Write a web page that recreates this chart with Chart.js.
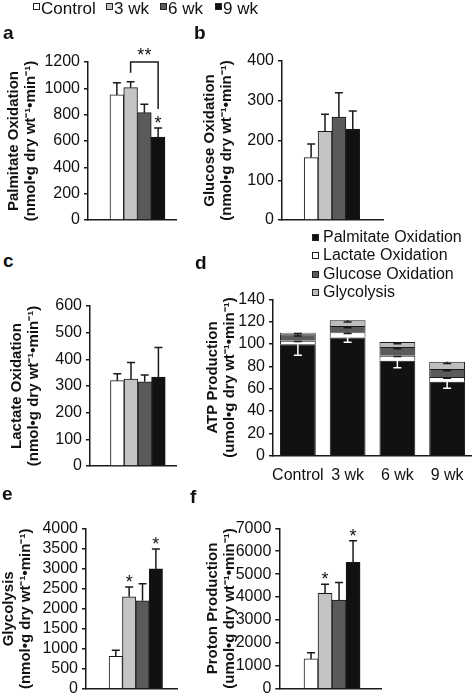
<!DOCTYPE html>
<html>
<head>
<meta charset="utf-8">
<script src="https://cdn.jsdelivr.net/npm/chart.js@4.4.1/dist/chart.umd.min.js"></script>
<style>
  html, body { margin: 0; padding: 0; background: #fff; overflow: hidden; }
  body { width: 472px; height: 696px; position: relative; font-family: "Liberation Sans", Arial, sans-serif; color: #111; }
  canvas { position: absolute; }
  .letter { position: absolute; font-weight: bold; font-size: 19px; line-height: 19px; }
  .leg { position: absolute; white-space: nowrap; }
  .sw { position: absolute; width: 5px; height: 5px; border: 1px solid #222; }
</style>
</head>
<body>
<script>
// groups shared by every panel
const groups = ['Control', '3 wk', '6 wk', '9 wk'];
const groupFill = ['#ffffff', '#c4c4c4', '#5a5a5a', '#111111'];

// a - palmitate oxidation
const palmOx = [950, 1005, 815, 630];
const palmOxErr = [92, 45, 65, 68];
const palmOxStars = ['', '', '', '*'];
const palmOxTicks = [0, 200, 400, 600, 800, 1000, 1200];
const palmOxBracket = ['3 wk', '9 wk', '**'];

// b - glucose oxidation
const glucOx = [157, 223, 259, 229];
const glucOxErr = [34, 43, 61, 45];
const glucOxTicks = [0, 100, 200, 300, 400];

// c - lactate oxidation
const lactOx = [320, 326, 316, 333];
const lactOxErr = [26, 62, 25, 111];
const lactOxTicks = [0, 100, 200, 300, 400, 500, 600];

// d - ATP production, stacked
const atpSeries = ['Palmitate Oxidation', 'Lactate Oxidation', 'Glucose Oxidation', 'Glycolysis'];
const atpFill = ['#111111', '#ffffff', '#5a5a5a', '#bdbdbd'];
const atpPalm = [99.8, 105.7, 85, 66.3];
const atpLact = [3.2, 4.8, 4.5, 4.2];
const atpGluc = [5.7, 5.5, 7.8, 7.1];
const atpGlyc = [1.4, 5.2, 4.5, 6.4];
const atpPalmErr = [9.8, 4.2, 6.2, 6];
const atpLactErr = [0.8, 1.2, 0.8, 1.2];
const atpGlucErr = [1.5, 1.5, 1.5, 1.5];
const atpGlycErr = [0.8, 1.5, 1.5, 1.5];
const atpTicks = [0, 20, 40, 60, 80, 100, 120, 140];

// e - glycolysis
const glyco = [810, 2300, 2200, 3000];
const glycoErr = [150, 250, 430, 500];
const glycoStars = ['', '*', '', '*'];
const glycoTicks = [0, 500, 1000, 1500, 2000, 2500, 3000, 3500, 4000];

// f - proton production
const proton = [1300, 4165, 3870, 5520];
const protonErr = [270, 395, 770, 940];
const protonStars = ['', '*', '', '*'];
const protonTicks = [0, 1000, 2000, 3000, 4000, 5000, 6000, 7000];

const unitN = '(nmol•g dry wt⁻¹•min⁻¹)';
const unitU = '(umol•g dry wt⁻¹•min⁻¹)';

const FONT = '"Liberation Sans", Arial, sans-serif';
const INK = '#1a1a1a';
const tickFont = { family: FONT, size: 16 };
const titleFont = { family: FONT, size: 15, weight: 'bold', lineHeight: 1.15 };
const axisBorder = { display: true, color: INK, width: 1.5 };

// error bars, stars and the bracket on top of the bars
const barMarks = {
  id: 'barMarks',
  afterDatasetsDraw(chart, args, opts) {
    if (!opts.errors) return;
    const ctx = chart.ctx;
    const yScale = chart.scales.y;
    const zero = yScale.getPixelForValue(0);
    const caps = [];
    ctx.save();
    ctx.lineWidth = 1.5;
    opts.errors.forEach(set => {
      chart.getDatasetMeta(set.dataset).data.forEach((bar, i) => {
        const len = zero - yScale.getPixelForValue(set.values[i]);
        const end = set.down ? bar.y + len : bar.y - len;
        ctx.strokeStyle = set.color;
        ctx.beginPath();
        ctx.moveTo(bar.x, bar.y);
        ctx.lineTo(bar.x, end);
        ctx.moveTo(bar.x - 4, end);
        ctx.lineTo(bar.x + 4, end);
        ctx.stroke();
        if (!set.down) caps[i] = { x: bar.x, y: end };
      });
    });
    const stars = opts.stars || [];
    ctx.fillStyle = '#111';
    ctx.font = '18px ' + FONT;
    ctx.textAlign = 'center';
    ctx.textBaseline = 'alphabetic';
    stars.forEach((s, i) => {
      if (s && caps[i]) ctx.fillText(s, caps[i].x, caps[i].y + 1);
    });
    if (opts.bracket) {
      const l = caps[groups.indexOf(opts.bracket[0])];
      const r = caps[groups.indexOf(opts.bracket[1])];
      const lEnd = l.y - 9 - (stars[groups.indexOf(opts.bracket[0])] ? 10 : 0);
      const rEnd = r.y - 9 - (stars[groups.indexOf(opts.bracket[1])] ? 10 : 0);
      const top = yScale.top;
      ctx.strokeStyle = INK;
      ctx.beginPath();
      ctx.moveTo(l.x, lEnd);
      ctx.lineTo(l.x, top);
      ctx.lineTo(r.x, top);
      ctx.lineTo(r.x, rEnd);
      ctx.stroke();
      ctx.fillText(opts.bracket[2], (l.x + r.x) / 2, top - 1);
    }
    ctx.restore();
  }
};
Chart.register(barMarks);

// box = canvas [left, top, width, height], area = plot [left, top, right, bottom] in page px
function makePanel(cfg) {
  const [L, T, W, H] = cfg.box;
  const [al, at, ar, ab] = cfg.area;
  const c = document.createElement('canvas');
  c.width = W;
  c.height = H;
  c.style.left = L + 'px';
  c.style.top = T + 'px';
  document.body.appendChild(c);
  return new Chart(c, {
    type: 'bar',
    data: cfg.data,
    options: {
      responsive: false,
      animation: false,
      devicePixelRatio: 1,
      layout: { padding: { left: 0, top: at - T, right: L + W - ar, bottom: 0 } },
      plugins: { legend: { display: false }, tooltip: { enabled: false }, barMarks: cfg.marks },
      scales: {
        x: Object.assign({
          afterFit: s => { s.height = T + H - ab; },
          grid: { display: false },
          border: axisBorder
        }, cfg.x),
        y: {
          stacked: !!cfg.stacked,
          min: cfg.ticks[0],
          max: cfg.ticks[cfg.ticks.length - 1],
          afterFit: s => { s.width = al - L; },
          afterBuildTicks: s => { s.ticks = cfg.ticks.map(v => ({ value: v })); },
          ticks: { font: tickFont, color: '#111', padding: 4, autoSkip: false, callback: v => String(v) },
          grid: { drawOnChartArea: false, drawTicks: true, tickLength: 4, color: INK, lineWidth: 1.5 },
          border: axisBorder,
          title: { display: true, text: cfg.title, font: titleFont, color: '#111', padding: { top: cfg.titlePad, bottom: 0 } }
        }
      }
    }
  });
}

function simplePanel(box, area, xRange, values, errs, stars, ticks, title, titlePad, bracket) {
  return makePanel({
    box, area, ticks, title, titlePad,
    data: {
      datasets: [{
        data: groups.map((g, i) => ({ x: i + 1, y: values[i] })),
        backgroundColor: groupFill,
        borderColor: INK,
        borderWidth: 1,
        barPercentage: 1,
        categoryPercentage: 1
      }]
    },
    x: {
      type: 'linear',
      min: xRange[0],
      max: xRange[1],
      ticks: { display: false },
      afterBuildTicks: s => { s.ticks = groups.map((g, i) => ({ value: i + 1 })); }
    },
    marks: {
      errors: [{ dataset: 0, values: errs, color: INK, down: false }],
      stars: stars,
      bracket: bracket
    }
  });
}

simplePanel([0, 40, 200, 200], [88, 62, 176, 220], [-0.3, 4.5], palmOx, palmOxErr, palmOxStars,
  palmOxTicks, ['Palmitate Oxidation', unitN], 5, palmOxBracket);
simplePanel([196, 40, 200, 200], [282, 61, 383, 220], [-0.19, 5.27], glucOx, glucOxErr, [],
  glucOxTicks, ['Glucose Oxidation', unitN], 5);
simplePanel([3, 280, 200, 210], [90, 306, 176, 466], [-0.21, 4.5], lactOx, lactOxErr, [],
  lactOxTicks, ['Lactate Oxidation', unitN], 5);
simplePanel([0, 505, 200, 200], [86, 529, 177, 688.7], [-0.38, 4.73], glyco, glycoErr, glycoStars,
  glycoTicks, ['Glycolysis', unitN], 0);
simplePanel([199, 505, 200, 200], [279.3, 528.3, 381.7, 688.7], [-0.35, 5.13], proton, protonErr, protonStars,
  protonTicks, ['Proton Production', unitU], 5);

// d - stacked ATP production
const atpValues = [atpPalm, atpLact, atpGluc, atpGlyc];
makePanel({
  box: [199, 280, 273, 220],
  area: [273, 299.3, 472, 455.7],
  ticks: atpTicks,
  stacked: true,
  title: ['ATP Production', unitU],
  titlePad: 5,
  data: {
    labels: groups,
    datasets: atpSeries.map((name, k) => ({
      label: name,
      data: atpValues[k],
      backgroundColor: atpFill[k],
      borderColor: INK,
      borderWidth: 1,
      barPercentage: 0.72,
      categoryPercentage: 1
    }))
  },
  x: {
    type: 'category',
    stacked: true,
    offset: true,
    ticks: { font: tickFont, color: '#111', padding: 2, autoSkip: false, maxRotation: 0, minRotation: 0 }
  },
  marks: {
    errors: [
      { dataset: 0, values: atpPalmErr, color: '#ffffff', down: true },
      { dataset: 1, values: atpLactErr, color: INK, down: true },
      { dataset: 2, values: atpGlucErr, color: INK, down: true },
      { dataset: 3, values: atpGlycErr, color: INK, down: true }
    ]
  }
});

// text overlays: panel letters and legends
function addText(cls, text, left, top, extra) {
  const d = document.createElement('div');
  d.className = cls;
  d.textContent = text;
  d.style.left = left + 'px';
  d.style.top = top + 'px';
  Object.assign(d.style, extra || {});
  document.body.appendChild(d);
}
function addSwatch(left, top, fill) {
  const s = document.createElement('div');
  s.className = 'sw';
  s.style.left = left + 'px';
  s.style.top = top + 'px';
  s.style.background = fill;
  document.body.appendChild(s);
}

const letters = ['a', 'b', 'c', 'd', 'e', 'f'];
const letterPos = [[3, 23], [194, 23], [3, 251], [195, 253], [2, 484], [190, 487]];
letters.forEach((t, i) => addText('letter', t, letterPos[i][0], letterPos[i][1]));

// top legend
const topLegX = [33, 106, 160, 215];
groups.forEach((g, i) => {
  addSwatch(topLegX[i], 3, groupFill[i]);
  addText('leg', g, topLegX[i] + 8, 0, { fontSize: '17px', lineHeight: '17px' });
});

// panel d legend, top row first
atpSeries.forEach((name, r) => {
  const top = 229 + r * 18.3;
  addSwatch(312, top + 5, atpFill[r]);
  addText('leg', name, 323, top, { fontSize: '16px', lineHeight: '16px' });
});
</script>
</body>
</html>
